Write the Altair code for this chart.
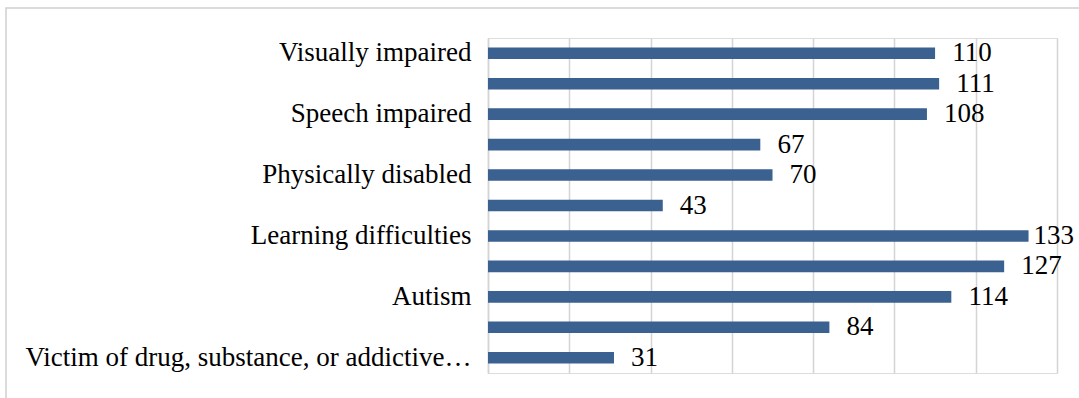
import altair as alt
import pandas as pd

categories = [
    "Visually impaired",
    "Hearing impaired",
    "Speech impaired",
    "Mentally challenged",
    "Physically disabled",
    "Multiple disabilities",
    "Learning difficulties",
    "Behavioural difficulties",
    "Autism",
    "Gifted and talented",
    "Victim of drug, substance, or addictive…",
]
values = [110, 111, 108, 67, 70, 43, 133, 127, 114, 84, 31]
shown_labels = [categories[i] for i in range(0, len(categories), 2)]
x_ticks = [0, 20, 40, 60, 80, 100, 120, 140]

df = pd.DataFrame({"category": categories, "value": values})

FONT = "Liberation Serif"
BAR = "#3A6190"
GRID = "#D4D4D4"

shown_js = "[" + ",".join("'" + s.replace("'", "\\'") + "'" for s in shown_labels) + "]"

y_enc = alt.Y(
    "category:N",
    sort=categories,
    scale=alt.Scale(paddingInner=0.62, paddingOuter=0.31),
    axis=alt.Axis(
        title=None,
        ticks=False,
        domain=True,
        domainColor=GRID,
        domainWidth=1.5,
        grid=False,
        labelFont=FONT,
        labelFontSize=27,
        labelColor="#000000",
        labelPadding=17,
        labelLimit=480,
        labelExpr=f"indexof({shown_js}, datum.value) >= 0 ? datum.label : ''",
    ),
)

x_enc = alt.X(
    "value:Q",
    scale=alt.Scale(domain=[0, 140], nice=False),
    axis=alt.Axis(
        title=None,
        values=x_ticks,
        labels=False,
        ticks=False,
        domain=False,
        grid=True,
        gridColor=GRID,
        gridWidth=1.5,
    ),
)

base = alt.Chart(df)

border = base.mark_rect(
    fill=None, stroke="#CFCFCF", strokeWidth=1.5
).encode(
    x=alt.value(-482), x2=alt.value(700), y=alt.value(-30), y2=alt.value(400)
).transform_filter("datum.category == 'Autism'")

bars = base.mark_bar(color=BAR).encode(x=x_enc, y=y_enc)

# labels sit just right of the bar, but are kept inside the chart like Excel does
labels = base.transform_calculate(
    lx="min(datum.value + 4.2, 134.2)"
).mark_text(
    align="left", baseline="middle", font=FONT, fontSize=27, color="#000000"
).encode(
    x=alt.X("lx:Q"),
    y=alt.Y("category:N", sort=categories),
    text="value:Q",
)

chart = (
    alt.layer(border, bars, labels)
    .properties(
        width=569,
        height=335,
        padding={"left": 488, "top": 38, "right": 22, "bottom": 25},
        autosize=alt.AutoSizeParams(type="none"),
    )
    .configure_view(stroke=None)
    .configure(background="white")
)

chart.save("out.html", embed_options={"renderer": "svg", "actions": False})
